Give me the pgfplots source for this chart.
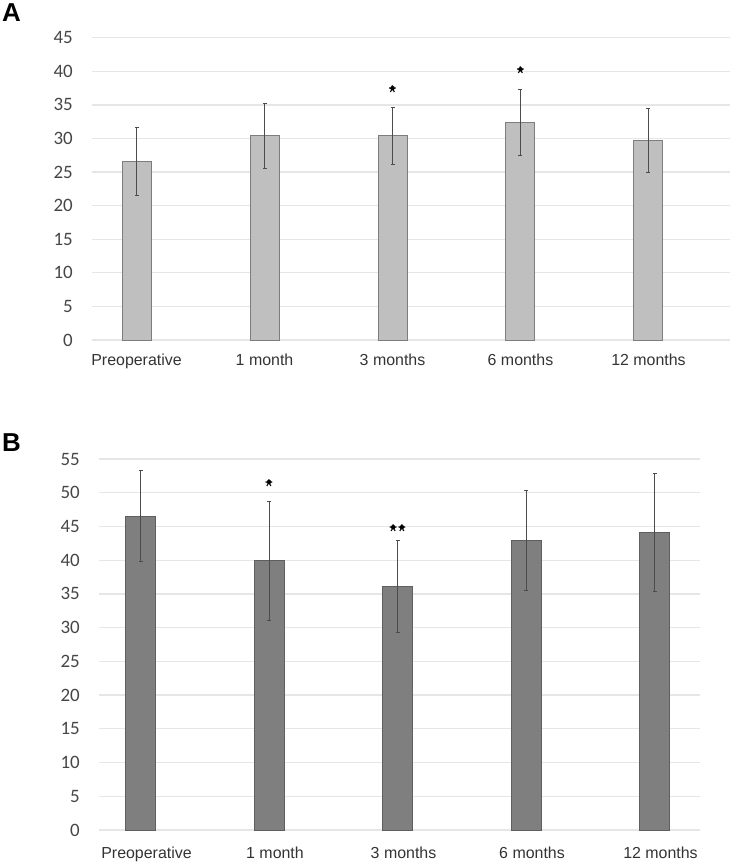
\documentclass[border=0pt]{standalone}
\usepackage{pgfplots}
\pgfplotsset{compat=1.18}
\usepackage{fontspec}
\setmainfont{Liberation Sans}
\newfontfamily\carlito{Carlito}

\definecolor{gridgray}{RGB}{230,230,230}
\definecolor{barA}{RGB}{191,191,191}
\definecolor{edgeA}{RGB}{125,125,125}
\definecolor{barB}{RGB}{127,127,127}
\definecolor{edgeB}{RGB}{95,95,95}
\definecolor{ticktext}{RGB}{70,70,70}

\pgfplotsset{
  panel/.style={
    scale only axis,
    axis line style={draw=none},
    tick style={draw=none},
    ymajorgrids=true,
    major grid style={color=gridgray, line width=1.3bp},
    ymin=0,
    xtick={0,1,2,3,4},
    xticklabels={Preoperative, 1 month, 3 months, 6 months, 12 months},
    xticklabel style={font=\fontsize{16}{16}\selectfont, text=black!80, anchor=north, inner sep=0pt},
    yticklabel style={font=\carlito\fontsize{19}{19}\selectfont, text=ticktext, anchor=east, inner sep=0pt, xshift=-19bp},
    /pgf/number format/assume math mode=true,
    clip=false,
  },
  errs/.style={
    error bars/.cd,
    y dir=both, y explicit,
    error bar style={line width=0.8bp, color=black!70},
    error mark options={line width=0.8bp, color=black!70, mark size=2bp, rotate=90},
  },
  stars/.style={
    only marks, mark=*, mark options={draw=none, fill=none},
    nodes near coords, point meta=explicit symbolic,
    nodes near coords style={anchor=base, yshift=-11.5bp, inner sep=0pt, text=black, font=\fontsize{20}{20}\selectfont},
  },
}

\begin{document}
\begin{tikzpicture}
\path[use as bounding box] (0,0) rectangle (735bp,-865bp);

% panel labels
\node[anchor=north west, inner sep=0pt, font=\bfseries\fontsize{26}{26}\selectfont] at (2bp,-3bp) {A};
\node[anchor=north west, inner sep=0pt, font=\bfseries\fontsize{26}{26}\selectfont] at (2bp,-433bp) {B};

% panel A
\begin{axis}[panel,
  at={(92bp,-340bp)}, anchor=south west,
  width=638bp, height=302.3bp,
  xmin=-0.348, xmax=4.637,
  ymax=45, ytick={0,5,...,45},
  xticklabel style={yshift=-14bp},
]
\addplot[ybar, bar width=29bp, fill=barA, draw=edgeA, line width=1bp, errs] coordinates {
  (0,26.6) +- (0,5.05)
  (1,30.37) +- (0,4.85)
  (2,30.4) +- (0,4.25)
  (3,32.4) +- (0,4.85)
  (4,29.7) +- (0,4.75)
};
\addplot[stars] coordinates {
  (2,37.5) [*]
  (3,40.3) [*]
};
\end{axis}

% panel B
\begin{axis}[panel,
  at={(99bp,-830bp)}, anchor=south west,
  width=601bp, height=371bp,
  xmin=-0.323, xmax=4.354,
  ymax=55, ytick={0,5,...,55},
  xticklabel style={yshift=-16.7bp, xshift=6bp},
]
\addplot[ybar, bar width=30bp, fill=barB, draw=edgeB, line width=1bp, errs] coordinates {
  (0,46.55) +- (0,6.75)
  (1,39.9) +- (0,8.8)
  (2,36.1) +- (0,6.8)
  (3,42.9) +- (0,7.4)
  (4,44.1) +- (0,8.8)
};
\addplot[stars] coordinates {
  (1,51.6) [*]
  (1.966,44.9) [*]
  (2.034,44.9) [*]
};
\end{axis}
\end{tikzpicture}
\end{document}
